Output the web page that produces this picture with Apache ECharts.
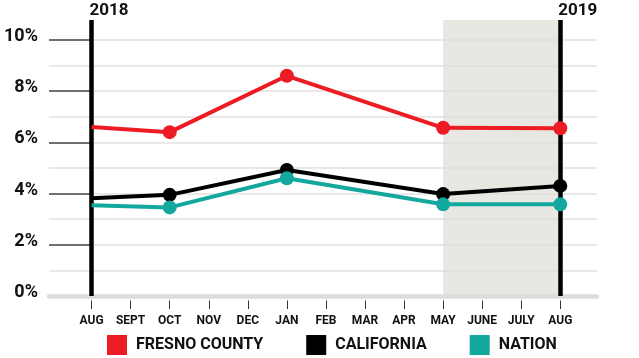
<!DOCTYPE html>
<html>
<head>
<meta charset="utf-8">
<script src="https://cdn.jsdelivr.net/npm/echarts@6/dist/echarts.min.js"></script>
<style>
html,body{margin:0;padding:0;background:#fff;}
#chart{width:639px;height:358px;}
</style>
</head>
<body>
<div id="chart"></div>
<script>
// ---- data ----
const months = ['AUG','SEPT','OCT','NOV','DEC','JAN','FEB','MAR','APR','MAY','JUNE','JULY','AUG'];
const seriesNames = ['FRESNO COUNTY','CALIFORNIA','NATION'];
const fresno     = [6.6,  null, 6.4,  null, null, 8.6,  null, null, null, 6.57, null, null, 6.55];
const california = [3.82, null, 3.95, null, null, 4.92, null, null, null, 3.98, null, null, 4.3];
const nation     = [3.54, null, 3.46, null, null, 4.6,  null, null, null, 3.58, null, null, 3.58];
const yLabelValues = [0, 2, 4, 6, 8, 10];
const yTickValues = [2, 4, 6, 8, 10];
const yearMarks = [{index: 0, label: '2018'}, {index: 12, label: '2019'}];
const shadedRange = [9, 12];

// ---- build ----
const colors = ['#ed1c24', '#000000', '#13a89e'];
const monthIdx = months.map((m, i) => i);

function toData(arr) {
  return arr.map((v, i) => v == null ? null : {value: [i, v], symbol: i === 0 ? 'none' : 'circle'})
            .filter(d => d !== null);
}

const font = 'Roboto';
const xMin = -1.09, xMax = 12.94;
const yMax = 10.78;

const chart = echarts.init(document.getElementById('chart'), null, {renderer: 'canvas'});
chart.setOption({
  animation: false,
  textStyle: {fontFamily: font},
  grid: {left: 49, right: 42, top: 20, bottom: 62, containLabel: false, outerBoundsMode: 'none'},
  xAxis: [
    {
      type: 'value', min: xMin, max: xMax,
      axisLine: {show: true, onZero: false, lineStyle: {color: '#dcdcdc', width: 4.5}},
      axisTick: {show: false}, axisLabel: {show: false}, splitLine: {show: false}
    },
    {
      type: 'value', min: xMin, max: xMax, position: 'bottom', offset: 4.5,
      axisLine: {show: false, onZero: false},
      axisTick: {show: true, customValues: monthIdx, length: 8.5, lineStyle: {color: '#333', width: 1}},
      axisLabel: {show: true, customValues: monthIdx, margin: 14, formatter: v => months[Math.round(v)] || '',
                  fontFamily: font, fontWeight: 'bold', fontSize: 12, color: '#111'},
      splitLine: {show: false}
    }
  ],
  yAxis: [
    {
      type: 'value', min: 0, max: yMax, position: 'left',
      axisLine: {show: false, onZero: false},
      axisTick: {show: true, inside: true, length: 42, customValues: yTickValues, lineStyle: {color: '#707070', width: 2}},
      axisLabel: {show: true, customValues: yLabelValues, formatter: v => v + '%', margin: 11,
                  fontFamily: font, fontWeight: 'bold', fontSize: 18, color: '#111',
                  verticalAlign: 'bottom', lineHeight: 7},
      splitLine: {show: false}
    },
    {
      type: 'value', min: 0, max: yMax, interval: 1, position: 'left',
      axisLine: {show: false, onZero: false}, axisTick: {show: false}, axisLabel: {show: false},
      splitLine: {show: true, showMaxLine: false, showMinLine: false, lineStyle: {color: '#e9e9e9', width: 2}}
    }
  ],
  legend: {
    data: seriesNames.map(n => ({name: n, icon: 'rect'})),
    left: 107, top: 335, padding: 0, itemWidth: 20, itemHeight: 20, itemGap: 43,
    selectedMode: false,
    textStyle: {fontFamily: font, fontWeight: 'bold', fontSize: 16, color: '#111', padding: [0, 0, 0, 4]}
  },
  series: [
    {
      type: 'line', data: [], z: 1, silent: true,
      markArea: {
        silent: true, z: 1,
        itemStyle: {color: 'rgba(224,221,212,0.7)'},
        data: [[{xAxis: shadedRange[0]}, {xAxis: shadedRange[1]}]]
      },
      markLine: {
        silent: true, z: 2, symbol: ['none', 'none'],
        lineStyle: {color: '#000', width: 4.5, type: 'solid'},
        label: {show: true, position: 'end', align: 'left', distance: 1, color: '#111',
                fontFamily: font, fontWeight: 'bold', fontSize: 17},
        data: yearMarks.map(m => ({xAxis: m.index, label: {formatter: m.label, offset: [-2, 0]}}))
      }
    },
    ...[fresno, california, nation].map((arr, k) => ({
      name: seriesNames[k], type: 'line', z: 3,
      data: toData(arr),
      symbol: 'circle', symbolSize: 14, showAllSymbol: true,
      lineStyle: {color: colors[k], width: 4},
      itemStyle: {color: colors[k]},
      emphasis: {disabled: true}
    }))
  ]
});
</script>
</body>
</html>
